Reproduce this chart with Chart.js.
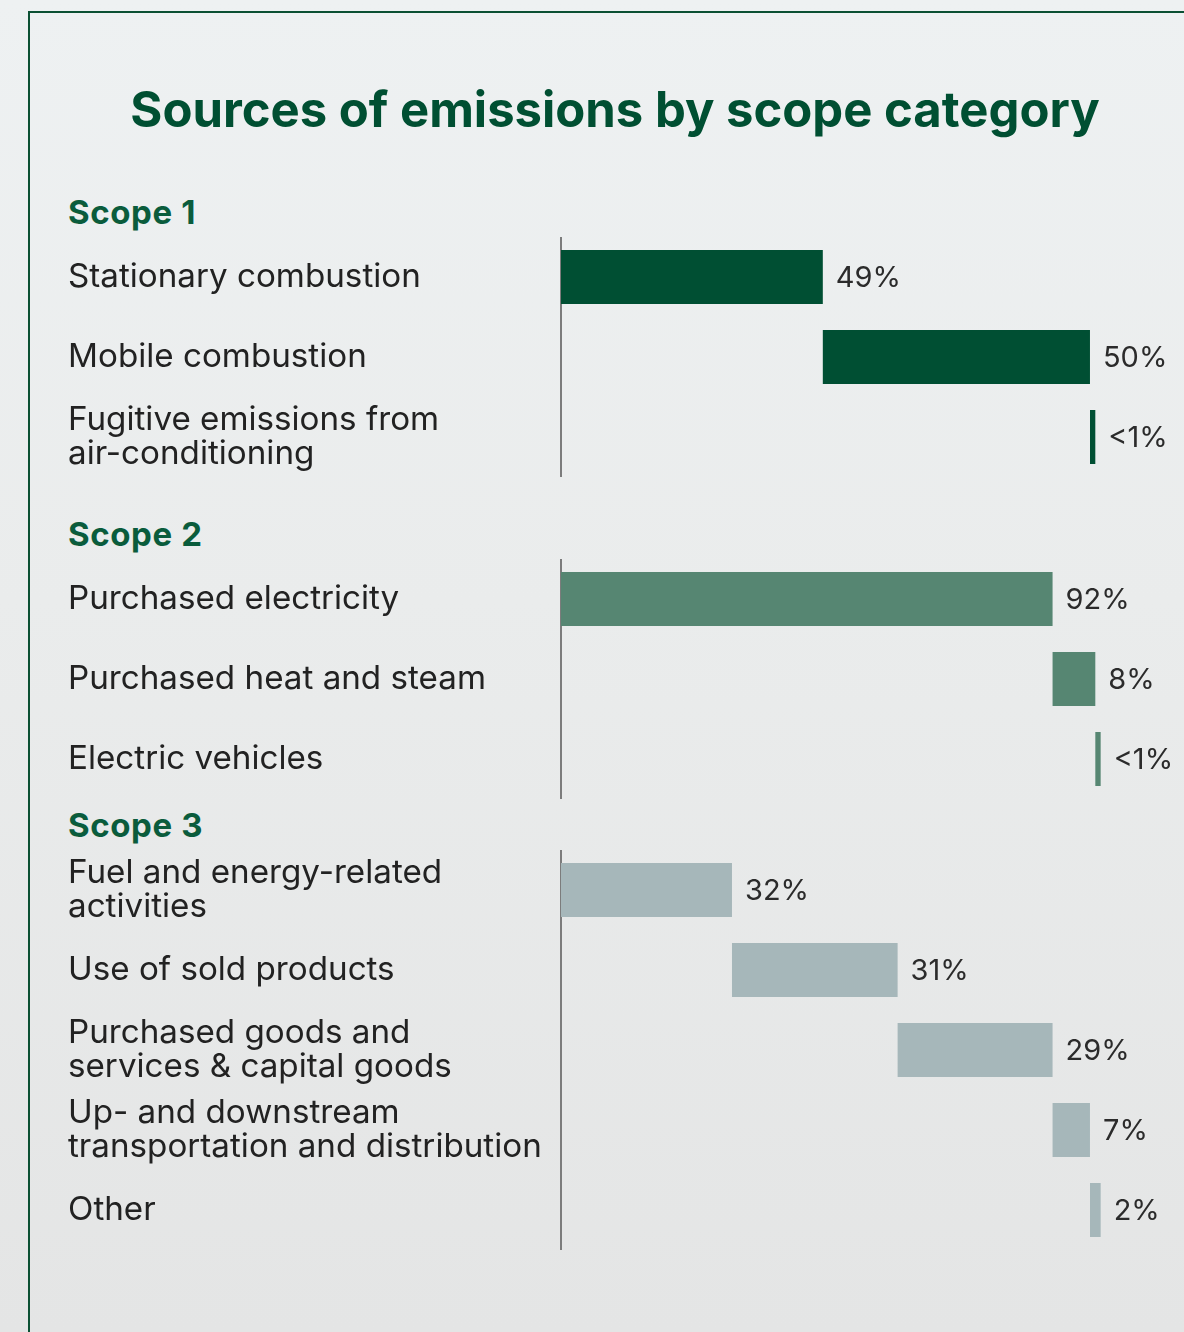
<!DOCTYPE html>
<html>
<head>
<meta charset="utf-8">
<script src="https://cdn.jsdelivr.net/npm/chart.js@4.4.1/dist/chart.umd.min.js"></script>
<style>
  html, body { margin:0; padding:0; }
  body { width:1184px; height:1332px; overflow:hidden; position:relative;
         background: linear-gradient(180deg, #eef1f2 0%, #eaecec 45%, #e4e5e5 100%);
         font-family: Inter, Roboto, sans-serif; }
  .frame { position:absolute; left:28px; top:11px; width:1200px; height:1400px;
           border:2.5px solid #0b5033; box-sizing:border-box; }
  .title { position:absolute; left:0; width:1230px; top:80px; text-align:center;
           font-weight:700; font-size:49px; color:#004f32; letter-spacing:0px; }
  .scope { position:absolute; left:68px; font-weight:700; font-size:33px; color:#0a5c3c; letter-spacing:0.6px; }
  canvas { position:absolute; left:68px; }
</style>
</head>
<body>
<div class="frame"></div>
<div class="title">Sources of emissions by scope category</div>
<div class="scope" style="top:192px">Scope 1</div>
<div class="scope" style="top:514px">Scope 2</div>
<div class="scope" style="top:805px">Scope 3</div>
<canvas id="c1" width="1116" height="240" style="top:237px"></canvas>
<canvas id="c2" width="1116" height="240" style="top:559px"></canvas>
<canvas id="c3" width="1116" height="400" style="top:850px"></canvas>
<script>
// ---- data ----
const scope1Categories = ['Stationary combustion', 'Mobile combustion', ['Fugitive emissions from', 'air-conditioning']];
const scope1Values = [49, 50, 1];
const scope1ValueLabels = ['49%', '50%', '<1%'];

const scope2Categories = ['Purchased electricity', 'Purchased heat and steam', 'Electric vehicles'];
const scope2Values = [92, 8, 1];
const scope2ValueLabels = ['92%', '8%', '<1%'];

const scope3Categories = [['Fuel and energy-related', 'activities'], 'Use of sold products',
  ['Purchased goods and', 'services & capital goods'], ['Up- and downstream', 'transportation and distribution'], 'Other'];
const scope3Values = [32, 31, 29, 7, 2];
const scope3ValueLabels = ['32%', '31%', '29%', '7%', '2%'];

const FONT = 'Inter, Roboto, sans-serif';

function waterfall(values) {
  let acc = 0;
  return values.map(v => { const s = acc; acc += v; return [s, acc]; });
}

const valueLabelPlugin = {
  id: 'valueLabels',
  afterDatasetsDraw(chart, args, opts) {
    const ctx = chart.ctx;
    const meta = chart.getDatasetMeta(0);
    ctx.save();
    ctx.font = '29px ' + FONT;
    ctx.fillStyle = '#2b2b2b';
    ctx.textAlign = 'left';
    ctx.textBaseline = 'middle';
    meta.data.forEach((bar, i) => {
      ctx.fillText(opts.labels[i], bar.x + 13, bar.y + 1);
    });
    ctx.restore();
  }
};

function makeChart(id, categories, values, valueLabels, color) {
  return new Chart(document.getElementById(id), {
    type: 'bar',
    data: {
      labels: categories,
      datasets: [{
        data: waterfall(values),
        backgroundColor: color,
        borderWidth: 0,
        barPercentage: 0.675,
        categoryPercentage: 1
      }]
    },
    options: {
      indexAxis: 'y',
      responsive: false,
      animation: false,
      devicePixelRatio: 1,
      layout: { padding: { top: 0, bottom: 0, left: 0, right: 78 } },
      plugins: {
        legend: { display: false },
        tooltip: { enabled: false },
        valueLabels: { labels: valueLabels }
      },
      scales: {
        x: { display: false, min: 0, max: 102 },
        y: {
          grid: { display: false },
          border: { display: true, color: '#7c7c7c', width: 2 },
          afterFit: s => { s.width = 493; s.paddingTop = 0; s.paddingBottom = 0; },
          ticks: {
            crossAlign: 'far',
            autoSkip: false,
            color: '#222222',
            font: { family: FONT, size: 33.2, lineHeight: 1.05 },
            padding: 0
          }
        }
      }
    },
    plugins: [valueLabelPlugin]
  });
}

makeChart('c1', scope1Categories, scope1Values, scope1ValueLabels, '#004f33');
makeChart('c2', scope2Categories, scope2Values, scope2ValueLabels, '#568672');
makeChart('c3', scope3Categories, scope3Values, scope3ValueLabels, '#a6b7ba');
</script>
</body>
</html>
